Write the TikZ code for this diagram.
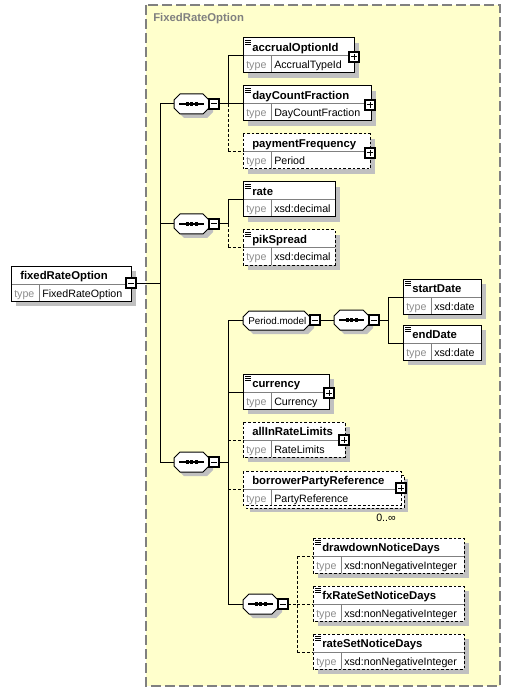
\documentclass[tikz,border=0pt]{standalone}
\usepackage{fontspec}
\setmainfont{Liberation Sans}
\definecolor{bgy}{RGB}{255,255,204}
\definecolor{shadowc}{RGB}{192,192,192}
\definecolor{divc}{RGB}{128,128,128}
\definecolor{typec}{RGB}{140,140,140}
\definecolor{framec}{RGB}{128,128,128}
\tikzset{
  conn/.style={line width=0.75pt},
  optconn/.style={line width=0.75pt,dash pattern=on 2.2pt off 1.5pt},
  boxline/.style={line width=0.75pt},
  dbox/.style={dash pattern=on 2pt off 1.5pt},
  lbl/.style={font=\fontsize{8.5}{9}\selectfont\bfseries,anchor=base west,inner sep=0pt},
  tlbl/.style={font=\fontsize{8}{9}\selectfont,anchor=base west,inner sep=0pt,text=typec},
  tval/.style={font=\fontsize{8}{9}\selectfont,anchor=base west,inner sep=0pt},
}
% plus/minus box: x y flag(1=plus)
\newcommand\xpm[3]{%
  \draw[line width=1.1pt,fill=white] ({#1-5},{#2-5}) rectangle ({#1+5},{#2+5});
  \draw[line width=0.75pt] ({#1-3.2},#2) -- ({#1+3.2},#2);
  \ifnum#3=1 \draw[line width=0.75pt] (#1,{#2-3.2}) -- (#1,{#2+3.2});\fi
}
% documentation icon
\newcommand\xdoc[2]{%
  \draw[line width=0.6pt] ({#1+2},{#2+2}) -- ({#1+7.5},{#2+2})
    ({#1+2},{#2+4}) -- ({#1+7.5},{#2+4}) ({#1+2},{#2+6}) -- ({#1+7.5},{#2+6});
}
% element box: [style] name x0 y0 x1 label type
\newcommand\xel[7][solid]{%
  \fill[shadowc] ({#3+5},{#4+5}) rectangle ({#5+5},{#4+40});
  \fill[white] (#3,#4) rectangle (#5,{#4+35});
  \draw[divc,line width=0.75pt] (#3,{#4+18}) -- (#5,{#4+18});
  \draw[divc,line width=0.75pt] ({#3+28},{#4+18}) -- ({#3+28},{#4+35});
  \draw[boxline,#1] (#3,#4) rectangle (#5,{#4+35});
  \node[lbl] (#2) at ({#3+9},{#4+13.5}) {#6};
  \node[tlbl] (#2-t) at ({#3+3},{#4+31}) {type};
  \node[tval] (#2-v) at ({#3+31},{#4+31}) {#7};
  \coordinate (#2-in) at (#3,{#4+18});
}
% octagon: style x0 y0 x1 y1
\newcommand\xoct[5]{%
  \path[#1] ({#2+6},#3) -- ({#4-6},#3) -- (#4,{#3+6}) -- (#4,{#5-6}) -- ({#4-6},#5)
    -- ({#2+6},#5) -- (#2,{#5-6}) -- (#2,{#3+6}) -- cycle;
}
% sequence: name x0 yc
\newcommand\xseq[3]{%
  \xoct{fill=shadowc}{#2+4}{#3-10+4}{#2+35+4}{#3+10+4}
  \xoct{draw,fill=white,line width=0.75pt}{#2}{#3-10}{#2+35}{#3+10}
  \draw[line width=0.9pt] ({#2+5},#3) -- ({#2+30},#3);
  \fill ({#2+11.5},{#3-1.6}) rectangle ({#2+14.5},{#3+1.6});
  \fill ({#2+16},{#3-1.6}) rectangle ({#2+19},{#3+1.6});
  \fill ({#2+20.5},{#3-1.6}) rectangle ({#2+23.5},{#3+1.6});
  \xpm{#2+40}{#3}{0}
  \coordinate (#1-in) at (#2,#3);
  \coordinate (#1-out) at ({#2+45},#3);
}
\begin{document}
\begin{tikzpicture}[x=0.75pt,y=-0.75pt]
\useasboundingbox (0,0) rectangle (510,691);
\fill[white] (0,0) rectangle (510,691);
% frame
\draw[framec,fill=bgy,line width=1.1pt,dash pattern=on 7.5pt off 3pt] (146,5) rectangle (500,686);
\node[font=\fontsize{8.5}{9}\selectfont\bfseries,text=framec,anchor=base west,inner sep=0pt] (title) at (153,22) {FixedRateOption};

% trunks
\coordinate (t0) at (160,0);
\coordinate (t1) at (228,0);
\coordinate (t2) at (388,0);
\coordinate (t3) at (297,0);

% root element
\xel{fro}{11}{266}{131}{fixedRateOption}{FixedRateOption}
\xpm{131}{283}{0}
\coordinate (fro-out) at (136,283);

% first sequence
\xseq{s1}{174}{104}
\xel{acc}{243}{38}{354}{accrualOptionId}{AccrualTypeId}
\xdoc{243}{38}\xpm{354}{57}{1}
\xel{day}{243}{86}{371}{dayCountFraction}{DayCountFraction}
\xdoc{243}{86}\xpm{370}{105}{1}
\xel[dbox]{pay}{243}{134}{370}{paymentFrequency}{Period}
\xpm{370}{153}{1}

% second sequence
\xseq{s2}{174}{224}
\xel{rate}{243}{182}{335}{rate}{xsd:decimal}
\xdoc{243}{182}
\xel[dbox]{pik}{243}{230}{335}{pikSpread}{xsd:decimal}
\xdoc{243}{230}

% third sequence
\xseq{s3}{174}{462}
\xoct{fill=shadowc}{247}{315}{314}{334}
\xoct{draw,fill=white,line width=0.75pt}{243}{311}{310}{330}
\node[tval,font=\fontsize{7.4}{9}\selectfont] (pm) at (248,324) {Period.model};
\xpm{315}{320}{0}
\coordinate (pm-in) at (243,320);
\coordinate (pm-out) at (320,320);

\xseq{s5}{334}{320}
\xel{sd}{403}{279}{481}{startDate}{xsd:date}
\xdoc{403}{279}
\xel{ed}{403}{325}{481}{endDate}{xsd:date}
\xdoc{403}{325}

\xel{cur}{243}{374}{329}{currency}{Currency}
\xdoc{243}{374}\xpm{329}{393}{1}
\xel[dbox]{all}{243}{422}{345}{allInRateLimits}{RateLimits}
\xpm{344}{440}{1}

% borrowerPartyReference (multiple)
\fill[shadowc] (250,479) rectangle (408,512);
\draw[boxline,dbox,fill=white] (246,475) rectangle (404,508);
\fill[white] (243,471) rectangle (401,505);
\draw[divc,line width=0.75pt] (243,489) -- (401,489);
\draw[divc,line width=0.75pt] (271,489) -- (271,505);
\draw[boxline,dbox] (243,471) rectangle (401,505);
\node[lbl] (bpr) at (252,484.5) {borrowerPartyReference};
\node[tlbl] (bpr-t) at (246,502) {type};
\node[tval] (bpr-v) at (274,502) {PartyReference};
\coordinate (bpr-in) at (243,489);
\xpm{401}{488}{1}
\node[font=\fontsize{8}{9}\selectfont,anchor=base,inner sep=0pt] (bpr-m) at (386,521) {0..∞};

% fourth sequence
\xseq{s4}{243}{604}
\xel[dbox]{dnd}{313}{538}{464}{drawdownNoticeDays}{xsd:nonNegativeInteger}
\xdoc{313}{538}
\xel[dbox]{fxr}{313}{586}{464}{fxRateSetNoticeDays}{xsd:nonNegativeInteger}
\xdoc{313}{586}
\xel[dbox]{rsn}{313}{634}{464}{rateSetNoticeDays}{xsd:nonNegativeInteger}
\xdoc{313}{634}

% connectors: root
\draw[conn] (fro-out) -- (fro-out -| t0);
\draw[conn] (s1-in -| t0) -- (s3-in -| t0);
\draw[conn] (s1-in -| t0) -- (s1-in);
\draw[conn] (s2-in -| t0) -- (s2-in);
\draw[conn] (s3-in -| t0) -- (s3-in);
% seq1
\draw[conn] (s1-out) -- (s1-out -| t1);
\draw[conn] (acc-in -| t1) -- (s1-out -| t1);
\draw[optconn] (s1-out -| t1) -- (pay-in -| t1);
\draw[conn] (acc-in -| t1) -- (acc-in);
\draw[conn] (day-in -| t1) -- (day-in);
\draw[optconn] (pay-in -| t1) -- (pay-in);
% seq2
\draw[conn] (s2-out) -- (s2-out -| t1);
\draw[conn] (rate-in -| t1) -- (s2-out -| t1);
\draw[optconn] (s2-out -| t1) -- (pik-in -| t1);
\draw[conn] (rate-in -| t1) -- (rate-in);
\draw[optconn] (pik-in -| t1) -- (pik-in);
% seq3
\draw[conn] (s3-out) -- (s3-out -| t1);
\draw[conn] (pm-in -| t1) -- (s4-in -| t1);
\draw[conn] (pm-in -| t1) -- (pm-in);
\draw[conn] (cur-in -| t1) -- (cur-in);
\draw[optconn] (all-in -| t1) -- (all-in);
\draw[optconn] (bpr-in -| t1) -- (bpr-in);
\draw[conn] (s4-in -| t1) -- (s4-in);
% Period.model
\draw[conn] (pm-out) -- (s5-in);
\draw[conn] (s5-out) -- (s5-out -| t2);
\draw[conn] (sd-in -| t2) -- (ed-in -| t2);
\draw[conn] (sd-in -| t2) -- (sd-in);
\draw[conn] (ed-in -| t2) -- (ed-in);
% seq4
\draw[optconn] (s4-out) -- (s4-out -| t3);
\draw[optconn] (dnd-in -| t3) -- (rsn-in -| t3);
\draw[optconn] (dnd-in -| t3) -- (dnd-in);
\draw[optconn] (fxr-in -| t3) -- (fxr-in);
\draw[optconn] (rsn-in -| t3) -- (rsn-in);
\end{tikzpicture}
\end{document}
